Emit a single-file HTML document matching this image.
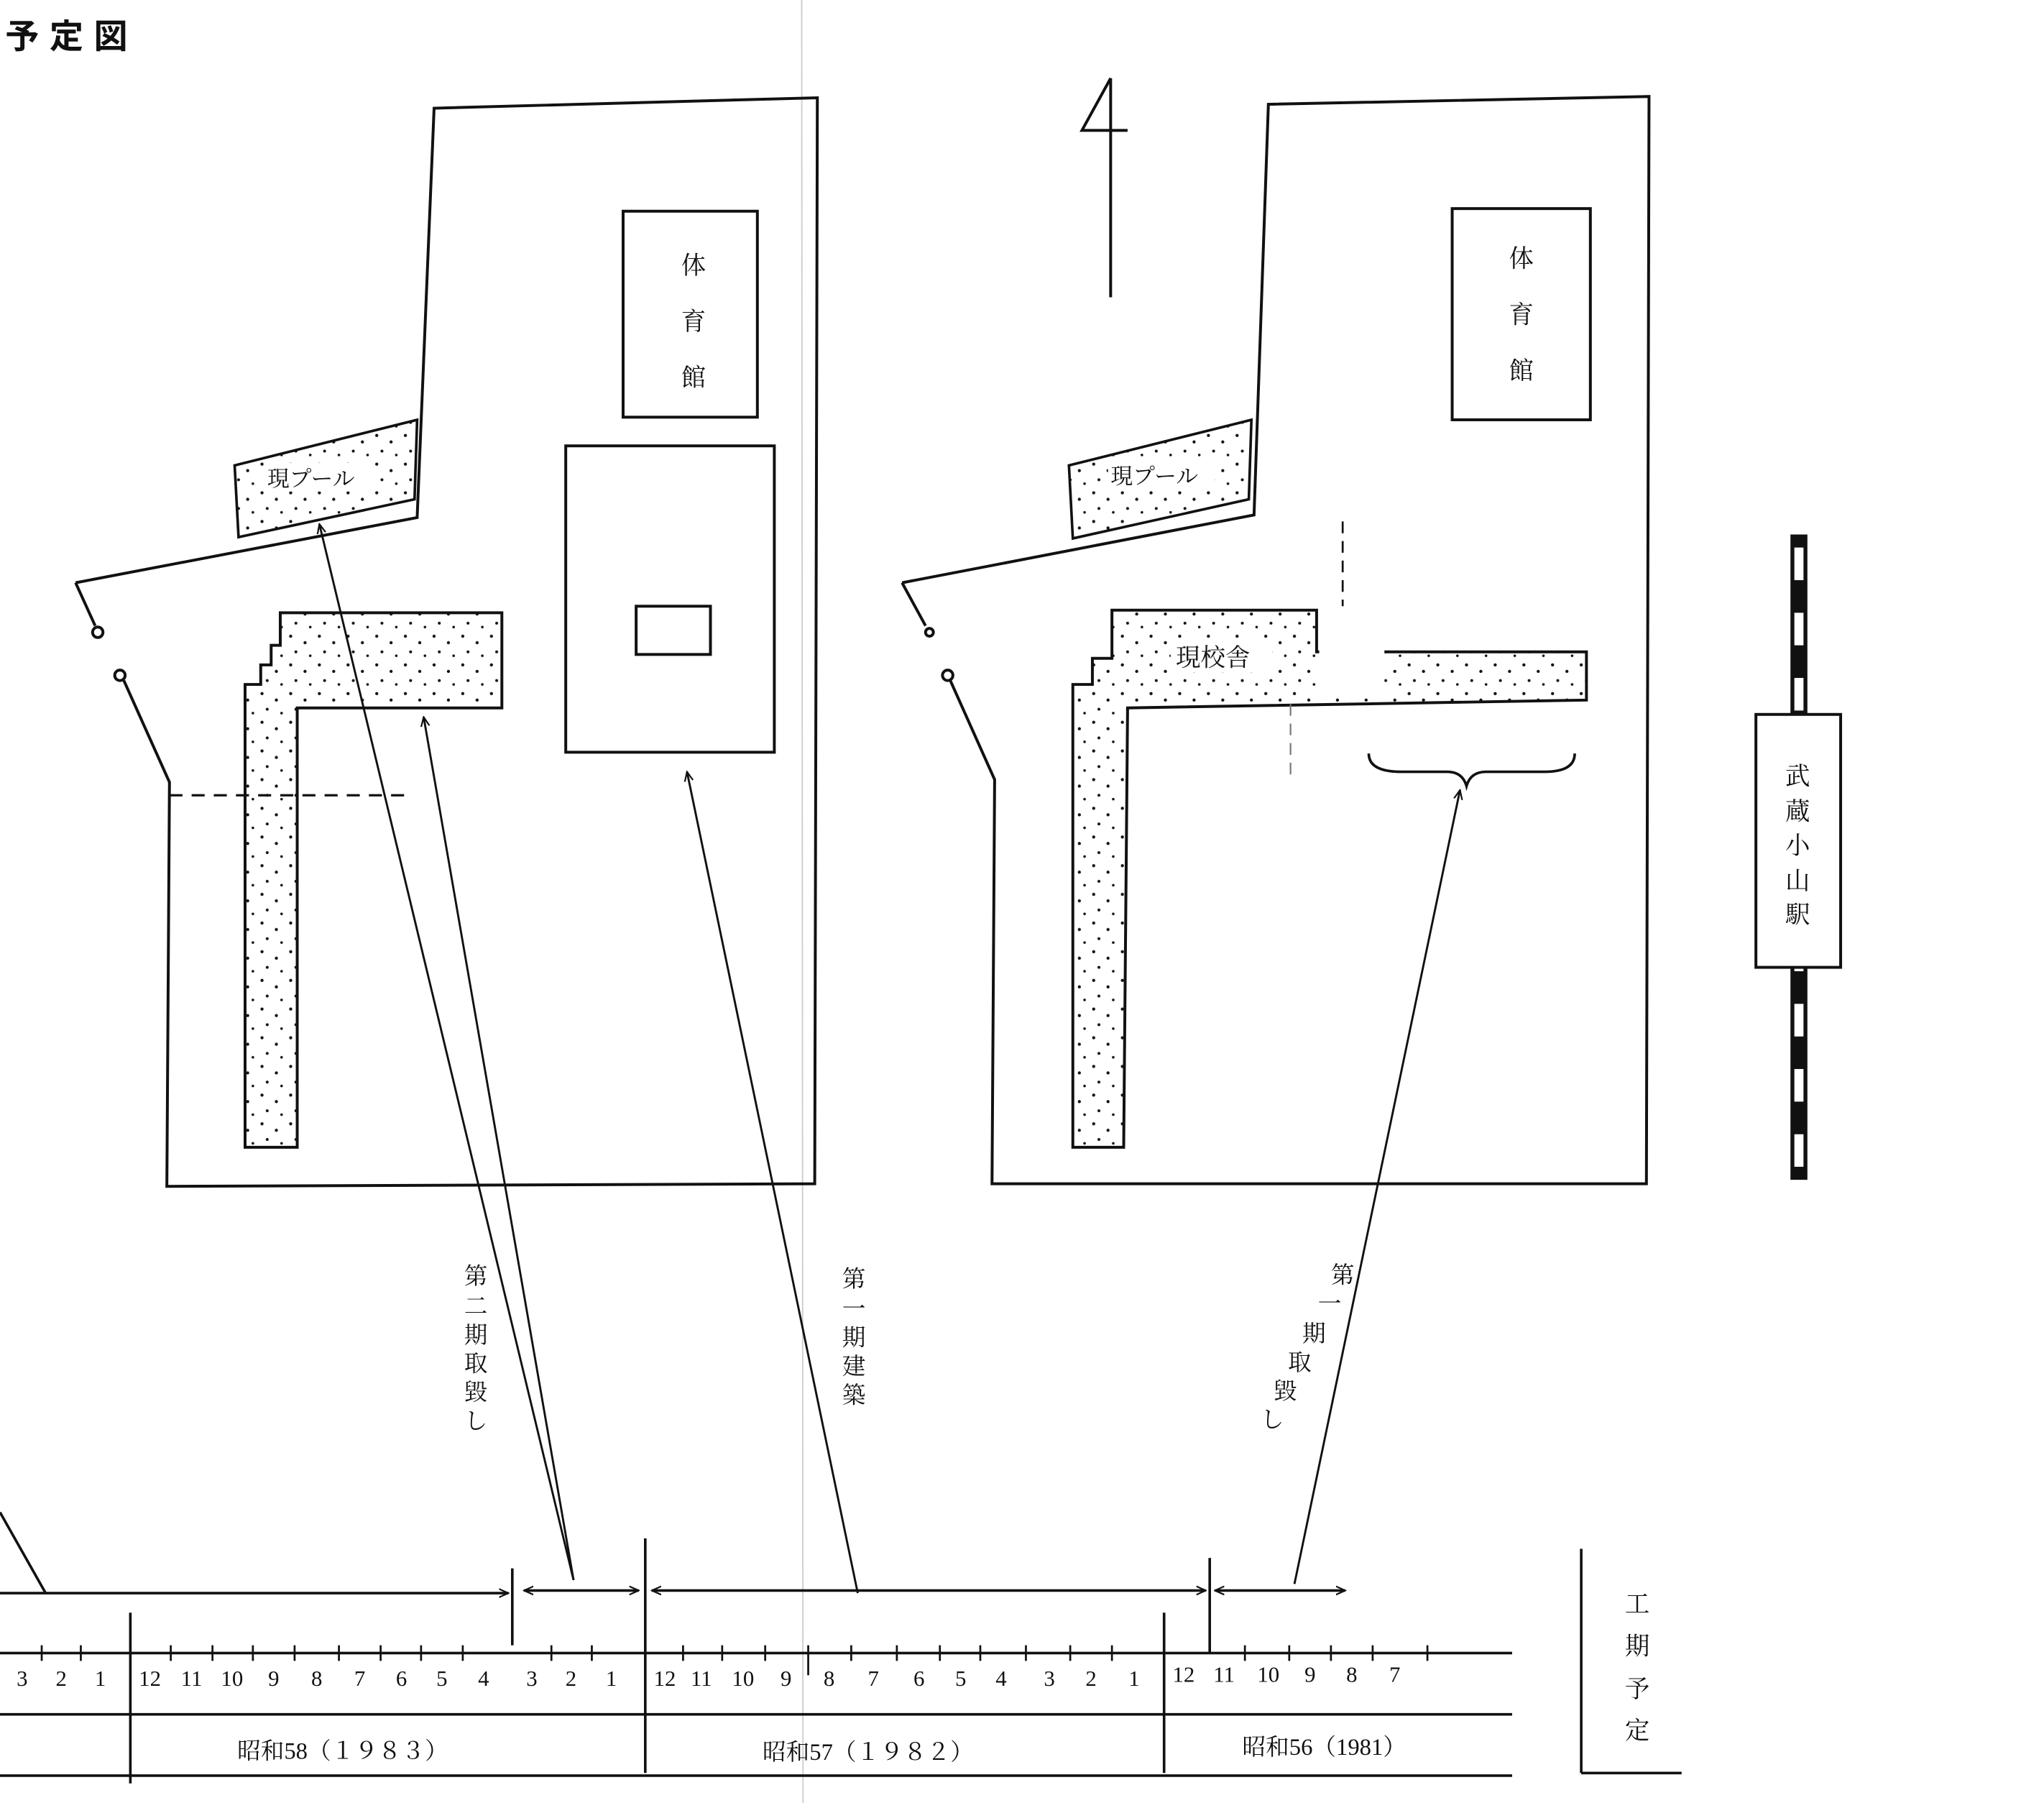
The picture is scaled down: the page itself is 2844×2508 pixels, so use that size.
<!DOCTYPE html>
<html><head><meta charset="utf-8"><style>
html,body{margin:0;padding:0;background:#fff;}
svg{display:block;}
text{font-family:"Liberation Serif","Noto Serif CJK SC","Noto Sans CJK JP",serif;fill:#111;}
</style></head><body>
<svg width="2844" height="2508" viewBox="0 0 1568 1383" preserveAspectRatio="none" xmlns="http://www.w3.org/2000/svg">
<defs>
<pattern id="dots" width="22" height="22" patternUnits="userSpaceOnUse">
<circle cx="3" cy="4" r="1.2" fill="#111"/><circle cx="14" cy="9" r="1.2" fill="#111"/><circle cx="7" cy="16" r="1.1" fill="#111"/><circle cx="18" cy="19" r="1" fill="#111"/>
</pattern>
<marker id="ah" viewBox="0 0 10 10" refX="9" refY="5" markerWidth="8" markerHeight="8" orient="auto-start-reverse" markerUnits="userSpaceOnUse"><path d="M0,1 L9,5 L0,9" fill="none" stroke="#111" stroke-width="1.5"/></marker>
</defs>
<rect width="1568" height="1383" fill="#fff"/>
<line x1="615" y1="0" x2="616" y2="1383" stroke="#ccc" stroke-width="1"/>
<text x="4" y="37" font-size="26" font-weight="bold" letter-spacing="8" style="font-family:'Liberation Sans','Noto Sans CJK JP',sans-serif">予定図</text>

<g fill="none" stroke="#111" stroke-width="2.2">
<polyline points="58,447 320,397 333,83 627,75 625,908 128,910 130,600 95,522"/>
<line x1="58" y1="447" x2="73" y2="480"/>
<circle cx="75" cy="485" r="4"/><circle cx="92" cy="518" r="4"/>
<polyline points="692,447 962,395 973,80 1265,74 1263,908 761,908 763,598 729,522"/>
<line x1="692" y1="447" x2="710" y2="480"/>
<circle cx="713" cy="485" r="3"/><circle cx="727" cy="518" r="4"/>
</g>
<polygon points="180,357 320,322 318,383 183,412" fill="url(#dots)" stroke="#111" stroke-width="2"/>
<rect x="203" y="355" width="82" height="22" fill="#fff"/>
<text x="205" y="373" font-size="17">現プール</text>
<polygon points="820,357 960,322 958,383 823,413" fill="url(#dots)" stroke="#111" stroke-width="2"/>
<rect x="850" y="353" width="82" height="22" fill="#fff"/>
<text x="852" y="371" font-size="17">現プール</text>
<polygon points="215,470 385,470 385,543 228,543 228,880 188,880 188,525 200,525 200,510 208,510 208,495 215,495" fill="url(#dots)" stroke="#111" stroke-width="2.2"/>
<line x1="130" y1="610" x2="310" y2="610" stroke="#111" stroke-width="1.8" stroke-dasharray="10,7"/>
<polygon points="853,468 1010,468 1010,500 1217,500 1217,537 865,543 862,880 823,880 823,525 838,525 838,505 853,505" fill="url(#dots)" stroke="#111" stroke-width="2.2"/>
<rect x="1012" y="470" width="50" height="65" fill="#fff"/>
<rect x="898" y="490" width="78" height="26" fill="#fff"/>
<text x="902" y="511" font-size="19">現校舎</text>
<line x1="1030" y1="400" x2="1030" y2="465" stroke="#111" stroke-width="1.5" stroke-dasharray="9,6"/>
<line x1="990" y1="540" x2="990" y2="600" stroke="#777" stroke-width="1.2" stroke-dasharray="9,6"/>
<path d="M1050,578 Q1050,592 1075,592 L1110,592 Q1122,592 1125,603 Q1128,592 1140,592 L1185,592 Q1208,592 1208,578" fill="none" stroke="#111" stroke-width="2"/>
<g fill="none" stroke="#111" stroke-width="2.2">
<rect x="478" y="162" width="103" height="158"/>
<rect x="434" y="342" width="160" height="235"/>
<rect x="488" y="465" width="57" height="37"/>
<rect x="1114" y="160" width="106" height="162"/>
<polyline points="852,60 830,100 865,100"/>
<line x1="852" y1="60" x2="852" y2="228"/>
</g>
<g font-size="19" text-anchor="middle">
<text x="532" y="210">体</text><text x="532" y="253">育</text><text x="532" y="296">館</text>
<text x="1167" y="205">体</text><text x="1167" y="248">育</text><text x="1167" y="291">館</text>
</g>
<line x1="1380" y1="410" x2="1380" y2="905" stroke="#111" stroke-width="13"/>
<line x1="1380" y1="410" x2="1380" y2="905" stroke="#fff" stroke-width="7" stroke-dasharray="25,25" stroke-dashoffset="-10"/>
<rect x="1347" y="548" width="65" height="194" fill="#fff" stroke="#111" stroke-width="2.2"/>
<g font-size="19" text-anchor="middle">
<text x="1379" y="602">武</text><text x="1379" y="629">蔵</text><text x="1379" y="655">小</text><text x="1379" y="682">山</text><text x="1379" y="708">駅</text>
</g>
<g stroke="#111" stroke-width="1.6" fill="none">
<line x1="440" y1="1212" x2="245" y2="402" marker-end="url(#ah)"/>
<line x1="440" y1="1212" x2="325" y2="550" marker-end="url(#ah)"/>
<line x1="658" y1="1222" x2="527" y2="592" marker-end="url(#ah)"/>
<line x1="993" y1="1215" x2="1120" y2="606" marker-end="url(#ah)"/>
</g>
<g font-size="18" text-anchor="middle">
<text x="365" y="985">第</text><text x="365" y="1008">二</text><text x="365" y="1030">期</text><text x="365" y="1052">取</text><text x="365" y="1074">毀</text><text x="365" y="1096">し</text>
<text x="655" y="987">第</text><text x="655" y="1010">一</text><text x="655" y="1032">期</text><text x="655" y="1054">建</text><text x="655" y="1076">築</text>
<text x="1030" y="984">第</text><text x="1020" y="1006">一</text><text x="1008" y="1029">期</text><text x="997" y="1051">取</text><text x="986" y="1073">毀</text><text x="976" y="1095">し</text>
</g>
<g stroke="#111" stroke-width="2" fill="none">
<line x1="0" y1="1160" x2="35" y2="1222"/>
<line x1="0" y1="1222" x2="390" y2="1222" marker-end="url(#ah)"/>
<line x1="402" y1="1220" x2="490" y2="1220" marker-start="url(#ah)" marker-end="url(#ah)"/>
<line x1="500" y1="1220" x2="925" y2="1220" marker-start="url(#ah)" marker-end="url(#ah)"/>
<line x1="932" y1="1220" x2="1032" y2="1220" marker-start="url(#ah)" marker-end="url(#ah)"/>
<line x1="393" y1="1203" x2="393" y2="1262"/>
<line x1="495" y1="1180" x2="495" y2="1360"/>
<line x1="928" y1="1195" x2="928" y2="1268"/>
<line x1="100" y1="1237" x2="100" y2="1368"/>
<line x1="893" y1="1237" x2="893" y2="1360"/>
<line x1="0" y1="1268" x2="1160" y2="1268"/>
<line x1="0" y1="1315" x2="1160" y2="1315"/>
<line x1="0" y1="1362" x2="1160" y2="1362"/>
<line x1="1213" y1="1188" x2="1213" y2="1360"/>
<line x1="1213" y1="1360" x2="1290" y2="1360"/>
</g>
<g stroke="#111" stroke-width="1.5">
<line x1="32" y1="1262" x2="32" y2="1274"/><line x1="62" y1="1262" x2="62" y2="1274"/>
<line x1="131" y1="1262" x2="131" y2="1274"/><line x1="163" y1="1262" x2="163" y2="1274"/><line x1="194" y1="1262" x2="194" y2="1274"/><line x1="226" y1="1262" x2="226" y2="1274"/><line x1="260" y1="1262" x2="260" y2="1274"/><line x1="292" y1="1262" x2="292" y2="1274"/><line x1="323" y1="1262" x2="323" y2="1274"/><line x1="355" y1="1262" x2="355" y2="1274"/><line x1="423" y1="1262" x2="423" y2="1274"/><line x1="454" y1="1262" x2="454" y2="1274"/>
<line x1="524" y1="1262" x2="524" y2="1274"/><line x1="554" y1="1262" x2="554" y2="1274"/><line x1="587" y1="1262" x2="587" y2="1274"/><line x1="620" y1="1262" x2="620" y2="1285"/><line x1="653" y1="1262" x2="653" y2="1274"/><line x1="688" y1="1262" x2="688" y2="1274"/><line x1="721" y1="1262" x2="721" y2="1274"/><line x1="752" y1="1262" x2="752" y2="1274"/><line x1="787" y1="1262" x2="787" y2="1274"/><line x1="821" y1="1262" x2="821" y2="1274"/><line x1="853" y1="1262" x2="853" y2="1274"/>
<line x1="955" y1="1262" x2="955" y2="1274"/><line x1="989" y1="1262" x2="989" y2="1274"/><line x1="1021" y1="1262" x2="1021" y2="1274"/><line x1="1053" y1="1262" x2="1053" y2="1274"/><line x1="1095" y1="1262" x2="1095" y2="1274"/>
</g>
<g font-size="17" text-anchor="middle">
<text x="17" y="1293">3</text><text x="47" y="1293">2</text><text x="77" y="1293">1</text>
<text x="115" y="1293">12</text><text x="147" y="1293">11</text><text x="178" y="1293">10</text><text x="210" y="1293">9</text><text x="243" y="1293">8</text><text x="276" y="1293">7</text><text x="308" y="1293">6</text><text x="339" y="1293">5</text><text x="371" y="1293">4</text><text x="408" y="1293">3</text><text x="438" y="1293">2</text><text x="469" y="1293">1</text>
<text x="510" y="1293">12</text><text x="538" y="1293">11</text><text x="570" y="1293">10</text><text x="603" y="1293">9</text><text x="636" y="1293">8</text><text x="670" y="1293">7</text><text x="705" y="1293">6</text><text x="737" y="1293">5</text><text x="768" y="1293">4</text><text x="805" y="1293">3</text><text x="837" y="1293">2</text><text x="870" y="1293">1</text>
<text x="908" y="1290">12</text><text x="939" y="1290">11</text><text x="973" y="1290">10</text><text x="1005" y="1290">9</text><text x="1037" y="1290">8</text><text x="1070" y="1290">7</text>
</g>
<g font-size="18">
<text x="182" y="1349">昭和58（１９８３）</text>
<text x="585" y="1350">昭和57（１９８２）</text>
<text x="953" y="1346">昭和56（1981）</text>
</g>
<g font-size="19" text-anchor="middle">
<text x="1256" y="1237">工</text><text x="1256" y="1269">期</text><text x="1256" y="1302">予</text><text x="1256" y="1334">定</text>
</g>
</svg>
</body></html>
